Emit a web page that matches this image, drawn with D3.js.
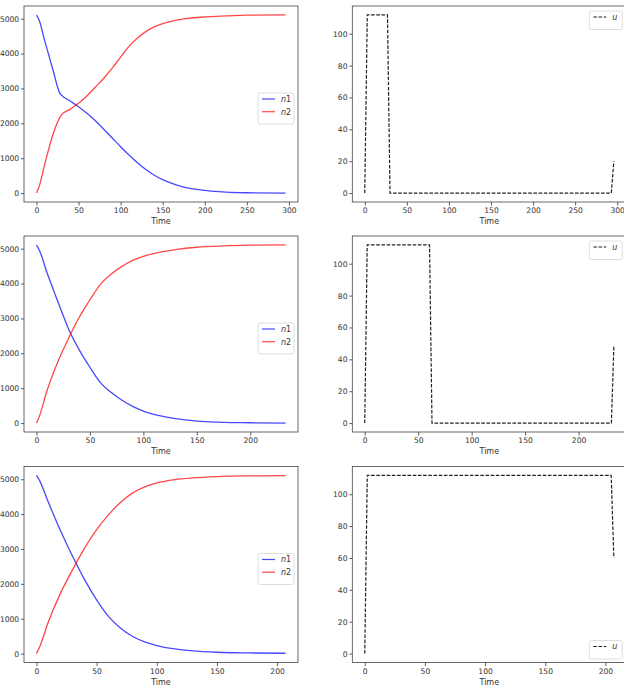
<!DOCTYPE html>
<html>
<head>
<meta charset="utf-8">
<script src="https://cdn.jsdelivr.net/npm/d3@7"></script>
<style>
  body { margin: 0; background: #fff; }
  .tick text { font-family: "DejaVu Sans", sans-serif; font-size: 7.6px; fill: #333; }
  .axisText { font-family: "DejaVu Sans", sans-serif; font-size: 8px; fill: #333; }
</style>
</head>
<body>
<div id="chart"></div>
<script>
var tRun1  = [0, 3, 10, 20, 27.8, 29.4, 40, 50, 60, 70, 80, 90, 100, 110, 120, 130, 140, 150, 160, 175, 200, 225, 250, 296];
var n1Run1 = [5100, 4970, 4350, 3500, 2860, 2813, 2640, 2477, 2285, 2074, 1830, 1580, 1330, 1090, 870, 675, 510, 384, 288, 173, 77, 29, 10, 0];
var n2Run1 = [0, 173, 845, 1709, 2170, 2237, 2400, 2573, 2784, 3034, 3293, 3581, 3898, 4205, 4445, 4627, 4762, 4858, 4925, 4992, 5050, 5078, 5098, 5107];

var tRun2  = [0, 2.5, 10, 20, 30, 40, 50, 60, 70, 80, 90, 100, 115, 130, 150, 175, 200, 233];
var n1Run2 = [5100, 4970, 4300, 3485, 2700, 2100, 1600, 1152, 874, 653, 480, 346, 211, 125, 58, 19, 10, 0];
var n2Run2 = [0, 173, 940, 1757, 2429, 3034, 3533, 3984, 4272, 4493, 4666, 4781, 4896, 4973, 5040, 5078, 5098, 5107];

var tRun3  = [0, 2.2, 10, 20, 30, 40, 50, 60, 70, 80, 90, 100, 115, 130, 150, 175, 207];
var n1Run3 = [5110, 4990, 4330, 3520, 2790, 2120, 1540, 1060, 728, 489, 335, 230, 134, 77, 38, 19, 10];
var n2Run3 = [0, 153, 920, 1734, 2405, 3027, 3554, 3985, 4340, 4608, 4780, 4895, 4991, 5039, 5077, 5097, 5106];

var uTime1 = [0, 3, 27, 30, 293, 296];
var uRun1  = [0, 111.8, 111.8, 0, 0, 20];
var uTime2 = [0, 2.3, 60.6, 62.9, 230.7, 233];
var uRun2  = [0, 111.8, 111.8, 0, 0, 48];
var uTime3 = [0, 2.1, 204.8, 207];
var uRun3  = [0, 111.8, 111.8, 60];

var timeMax = [296, 233, 207];
var xTickStep = 50;
var nTicks = [0, 1000, 2000, 3000, 4000, 5000];
var uTicks = [0, 20, 40, 60, 80, 100];

// Layout
var svgWidth = 624;
var svgHeight = 694;
var plotWidth = 274;
var plotHeight = 196;
var leftX = 24;
var rightX = 352.3;
var rowTops = [6, 236, 466.5];

var svg = d3.select("#chart")
  .append("svg")
  .attr("width", svgWidth)
  .attr("height", svgHeight);

function padDomain(min, max) {
  var pad = (max - min) * 0.05;
  return [min - pad, max + pad];
}

function drawAxes(g, xScale, yScale, yTicks, tmax) {
  var xTicks = d3.range(0, tmax * 1.05 + 0.001, xTickStep);

  var xAxis = g.append("g")
    .attr("transform", `translate(0, ${plotHeight})`)
    .call(d3.axisBottom(xScale).tickValues(xTicks).tickFormat(d3.format("d"))
      .tickSizeOuter(0).tickSize(3.5).tickPadding(2.5));
  var yAxis = g.append("g")
    .call(d3.axisLeft(yScale).tickValues(yTicks).tickFormat(d3.format("d"))
      .tickSizeOuter(0).tickSize(3).tickPadding(1.8));

  [xAxis, yAxis].forEach(a => {
    a.select(".domain").remove();
    a.selectAll(".tick line").attr("stroke", "#333").attr("stroke-width", 0.8);
  });

  // Frame
  g.append("rect")
    .attr("width", plotWidth)
    .attr("height", plotHeight)
    .attr("fill", "none")
    .attr("stroke", "#444")
    .attr("stroke-width", 0.8);

  // x axis label
  g.append("text")
    .attr("class", "axisText")
    .attr("x", plotWidth / 2)
    .attr("y", plotHeight + 22)
    .attr("text-anchor", "middle")
    .text("Time");
}

function drawLegend(g, x, y, items) {
  var legend = g.append("g").attr("transform", `translate(${x}, ${y})`);
  var boxW = items[0].boxW;
  legend.append("rect")
    .attr("width", boxW)
    .attr("height", 6 + items.length * 12.5)
    .attr("rx", 2)
    .attr("fill", "#fff")
    .attr("fill-opacity", 0.8)
    .attr("stroke", "#d6d6d6")
    .attr("stroke-width", 0.8);

  items.forEach((it, i) => {
    var ly = 6 + i * 12.7;
    legend.append("line")
      .attr("x1", 4).attr("x2", 17)
      .attr("y1", ly).attr("y2", ly)
      .attr("stroke", it.color)
      .attr("stroke-opacity", it.opacity)
      .attr("stroke-width", 1.2)
      .attr("stroke-dasharray", it.dash);
    var t = legend.append("text")
      .attr("class", "axisText")
      .attr("x", 23)
      .attr("y", ly + 2.8);
    t.append("tspan").attr("font-style", "italic").text(it.name);
    if (it.sub) t.append("tspan").text(it.sub);
  });
}

function drawPopulation(row, times, n1, n2, tmax) {
  var g = svg.append("g").attr("transform", `translate(${leftX}, ${rowTops[row]})`);

  var xScale = d3.scaleLinear()
    .domain(padDomain(0, tmax))
    .range([0, plotWidth]);
  var yScale = d3.scaleLinear()
    .domain(padDomain(0, d3.max(n1.concat(n2))))
    .range([plotHeight, 0]);

  drawAxes(g, xScale, yScale, nTicks, tmax);

  var line = d3.line()
    .x(d => xScale(d[0]))
    .y(d => yScale(d[1]))
    .curve(d3.curveMonotoneX);

  g.append("path")
    .datum(times.map((t, i) => [t, n1[i]]))
    .attr("d", line)
    .attr("fill", "none")
    .attr("stroke", "blue")
    .attr("stroke-opacity", 0.72)
    .attr("stroke-width", 1.3);

  g.append("path")
    .datum(times.map((t, i) => [t, n2[i]]))
    .attr("d", line)
    .attr("fill", "none")
    .attr("stroke", "red")
    .attr("stroke-opacity", 0.72)
    .attr("stroke-width", 1.3);

  drawLegend(g, 234, 87, [
    { name: "n", sub: "1", color: "blue", opacity: 0.72, dash: null, boxW: 36 },
    { name: "n", sub: "2", color: "red", opacity: 0.72, dash: null, boxW: 36 }
  ]);
}

function drawControl(row, times, u, tmax, legendBottom) {
  var g = svg.append("g").attr("transform", `translate(${rightX}, ${rowTops[row]})`);

  var xScale = d3.scaleLinear()
    .domain(padDomain(0, tmax))
    .range([0, plotWidth]);
  var yScale = d3.scaleLinear()
    .domain(padDomain(0, d3.max(u)))
    .range([plotHeight, 0]);

  drawAxes(g, xScale, yScale, uTicks, tmax);

  var line = d3.line()
    .x(d => xScale(d[0]))
    .y(d => yScale(d[1]));

  g.append("path")
    .datum(times.map((t, i) => [t, u[i]]))
    .attr("d", line)
    .attr("fill", "none")
    .attr("stroke", "#222")
    .attr("stroke-width", 1.2)
    .attr("stroke-dasharray", "3.6,1.6");

  drawLegend(g, 237, legendBottom ? 174 : 5, [
    { name: "u", sub: null, color: "#222", opacity: 1, dash: "3.6,1.6", boxW: 33 }
  ]);
}

drawPopulation(0, tRun1, n1Run1, n2Run1, timeMax[0]);
drawPopulation(1, tRun2, n1Run2, n2Run2, timeMax[1]);
drawPopulation(2, tRun3, n1Run3, n2Run3, timeMax[2]);

drawControl(0, uTime1, uRun1, timeMax[0], false);
drawControl(1, uTime2, uRun2, timeMax[1], false);
drawControl(2, uTime3, uRun3, timeMax[2], true);
</script>
</body>
</html>
